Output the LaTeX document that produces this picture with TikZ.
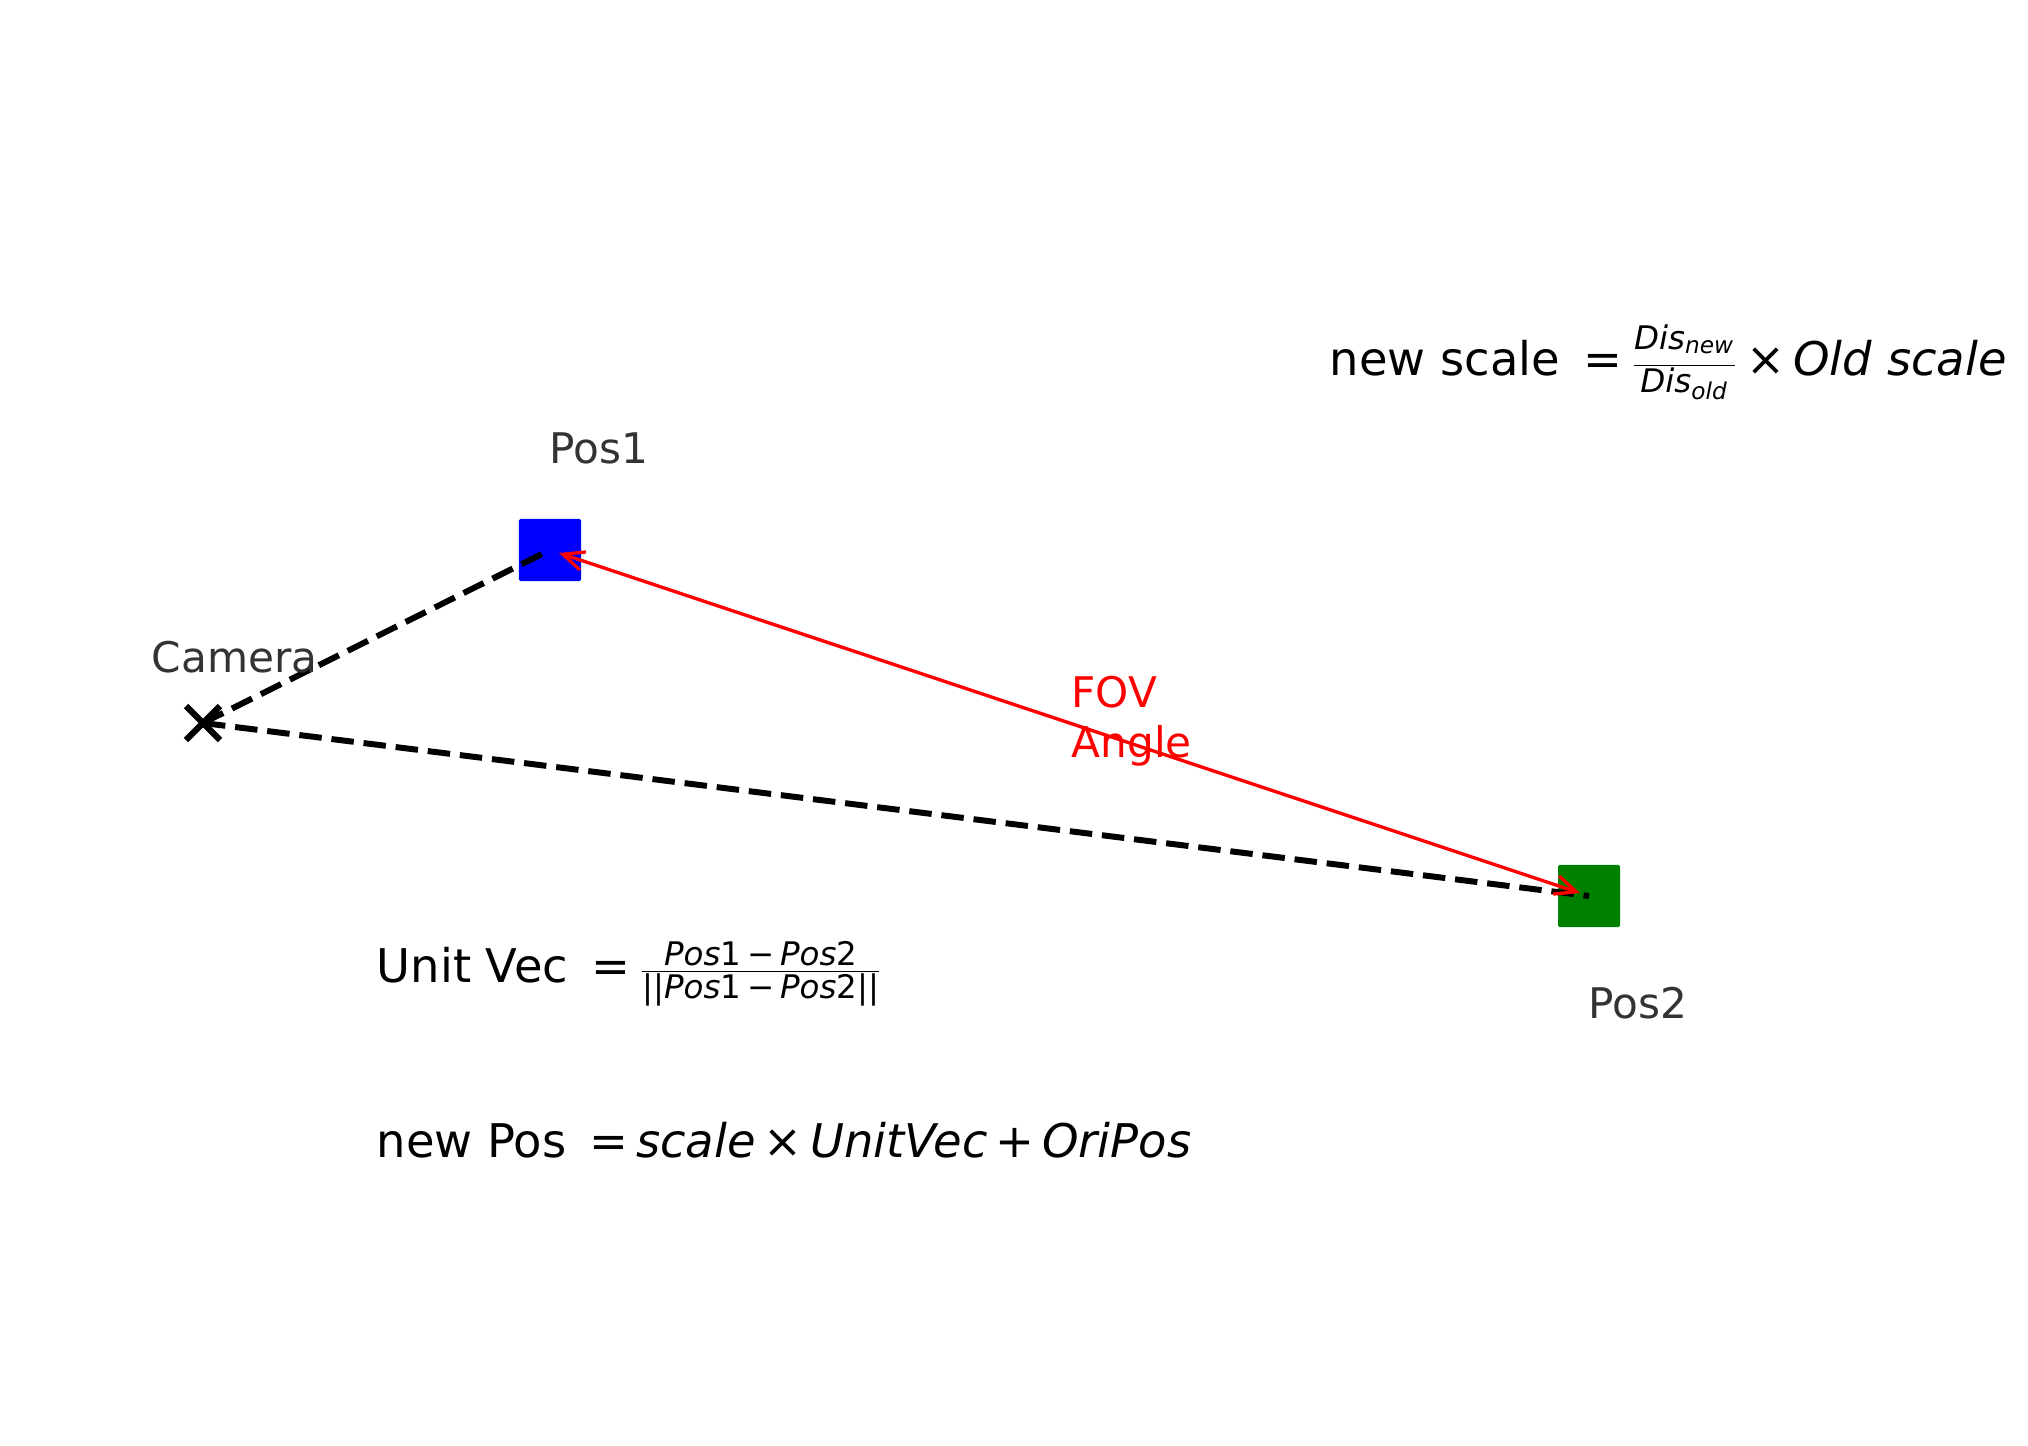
\documentclass[tikz,border=0pt]{standalone}
\usepackage{amsmath}
\usepackage{fontspec}
\setmainfont{DejaVu Sans}
\usetikzlibrary{arrows.meta}
\definecolor{labelgray}{HTML}{333333}
\newcommand{\opgap}{\hspace{0.18em}}

\begin{document}
\begin{tikzpicture}[x=0.01cm,y=-0.01cm,
	tag/.style={inner sep=0pt,anchor=base west,text=labelgray,font=\fontsize{12}{14}\selectfont},
	formula/.style={inner sep=0pt,anchor=base west,font=\fontsize{13.2}{16}\selectfont},
	ray/.style={line width=1.7pt,dash pattern=on 6.4pt off 2.8pt},
	target/.style={minimum size=0.62cm,inner sep=0pt,rounded corners=0.4pt},
	fovarrow/.style={red,line width=0.95pt,{Straight Barb[length=6pt,width=5.4pt]}-{Straight Barb[length=6pt,width=5.4pt]},shorten <=2.7pt,shorten >=2.7pt}]
	\useasboundingbox (0,0) rectangle (2028,1446);
	
	\coordinate (cam) at (203,723);
	\draw[line width=1.8pt] ([shift={(-17,-17)}]cam) -- ([shift={(17,17)}]cam)
		([shift={(-17,17)}]cam) -- ([shift={(17,-17)}]cam);
	\node[target,fill=blue] (pos1) at (550,550) {};
	\node[target,fill=green!50!black] (pos2) at (1589,896) {};
	
	\draw[ray] (cam) -- (pos1.center);
	\draw[ray] (cam) -- (pos2.center);
	\draw[fovarrow] (pos1.center) -- (pos2.center);
	
	\node[tag] (camtag) at (151,672) {Camera};
	\node[tag] (pos1tag) at (549,463) {Pos1};
	\node[tag] (pos2tag) at (1588,1018) {Pos2};
	\node[tag,text=red,align=left] (fovtag) at (1071,757) {FOV\\Angle};
	
	\node[formula] (newscale) at (1329,376) {new scale\hspace{0.5em}=\,$\frac{\textit{Dis}_{\textit{new}}\rule[-0.28em]{0pt}{0pt}}{\textit{Dis}_{\textit{old}}}$\,×\,\textit{Old scale}};
	\node[formula] (unitvec) at (376,982) {Unit Vec\hspace{0.5em}=\,$\frac{\text{\textit{Pos}1\opgap−\opgap\textit{Pos}2}}{\text{||\textit{Pos}1\opgap−\opgap\textit{Pos}2||}}$};
	\node[formula] (newpos) at (376,1157) {new Pos\hspace{0.5em}=\,\textit{scale}\,×\,\textit{UnitVec}\,+\,\textit{OriPos}};
\end{tikzpicture}
\end{document}
